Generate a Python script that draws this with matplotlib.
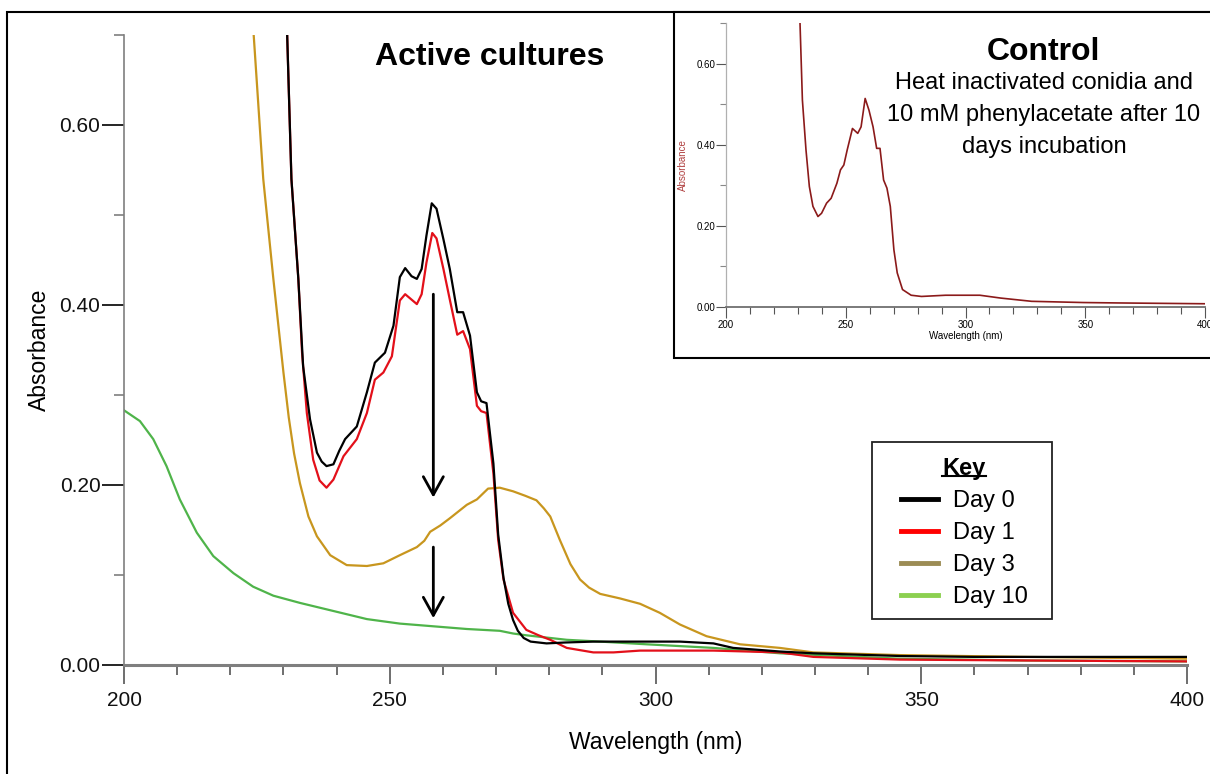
import matplotlib
matplotlib.use("Agg")
import matplotlib.pyplot as plt
from matplotlib.lines import Line2D
from matplotlib.patches import Rectangle
from matplotlib.ticker import MultipleLocator, FormatStrFormatter

plt.rcParams['font.family'] = ['Liberation Sans', 'DejaVu Sans']

# --- espectros (nm, absorbancia) ---
wl_day0 = [230.7, 231.5, 232.8, 233.7, 235.0, 236.3, 237.2, 238.1, 239.4, 240.5, 241.6, 243.8,
           245.7, 247.2, 249.1, 250.7, 251.9, 252.9, 254.1, 255.1, 256.0, 256.9, 257.9, 258.8,
           260.1, 261.3, 262.7, 263.8, 265.1, 266.4, 267.2, 268.2, 269.5, 270.4, 271.4, 272.3,
           273.2, 274.1, 275.2, 276.5, 279.5, 283.0, 288.3, 295.0, 304.6, 310.9, 314.6, 323.4,
           329.7, 346.0, 360.0, 380.0, 400.0]
abs_day0 = [0.700, 0.540, 0.429, 0.332, 0.273, 0.236, 0.226, 0.221, 0.223, 0.238, 0.251, 0.265,
            0.303, 0.336, 0.347, 0.377, 0.431, 0.441, 0.432, 0.429, 0.440, 0.477, 0.513, 0.507,
            0.473, 0.440, 0.392, 0.392, 0.366, 0.303, 0.293, 0.291, 0.224, 0.145, 0.097, 0.068,
            0.050, 0.038, 0.030, 0.026, 0.024, 0.025, 0.026, 0.026, 0.026, 0.024, 0.019, 0.015,
            0.013, 0.010, 0.009, 0.009, 0.009]

wl_day1 = [230.7, 231.5, 232.8, 233.5, 234.4, 235.6, 236.8, 238.1, 239.4, 241.3, 243.8, 245.7,
           247.2, 248.8, 250.4, 251.9, 252.9, 254.1, 255.1, 256.0, 256.9, 258.0, 258.8, 260.1,
           261.3, 262.7, 263.8, 265.1, 266.4, 267.2, 268.2, 269.5, 270.4, 271.4, 273.2, 275.7,
           278.0, 280.2, 283.3, 288.3, 292.1, 297.1, 310.9, 323.4, 329.7, 346.0, 370.0, 400.0]
abs_day1 = [0.700, 0.540, 0.429, 0.347, 0.280, 0.228, 0.205, 0.197, 0.206, 0.232, 0.251, 0.280,
            0.317, 0.325, 0.343, 0.405, 0.412, 0.406, 0.401, 0.412, 0.447, 0.480, 0.474, 0.440,
            0.406, 0.367, 0.371, 0.351, 0.288, 0.282, 0.280, 0.213, 0.139, 0.095, 0.058, 0.039,
            0.033, 0.028, 0.019, 0.014, 0.014, 0.016, 0.016, 0.014, 0.009, 0.006, 0.005, 0.004]

wl_day3 = [224.4, 226.2, 228.1, 230.0, 231.0, 232.0, 233.1, 234.7, 236.3, 238.8, 241.9, 245.7,
           248.8, 251.9, 255.1, 256.5, 257.6, 259.5, 261.3, 264.5, 266.4, 268.5, 270.7, 273.2,
           275.5, 277.6, 279.0, 280.2, 282.0, 284.0, 285.8, 287.5, 289.6, 293.3, 297.1, 300.8,
           304.6, 309.6, 315.9, 323.4, 329.7, 346.0, 370.0, 400.0]
abs_day3 = [0.700, 0.540, 0.429, 0.325, 0.275, 0.235, 0.202, 0.165, 0.143, 0.122, 0.111, 0.110,
            0.113, 0.122, 0.131, 0.138, 0.148, 0.155, 0.163, 0.178, 0.184, 0.196, 0.197, 0.193,
            0.188, 0.183, 0.174, 0.165, 0.139, 0.112, 0.095, 0.086, 0.079, 0.074, 0.068, 0.058,
            0.045, 0.032, 0.023, 0.019, 0.014, 0.011, 0.009, 0.007]

wl_day10 = [200.0, 203.0, 205.5, 208.0, 210.5, 213.7, 216.8, 220.6, 224.3, 228.1, 233.1, 239.4,
            245.7, 251.9, 258.2, 264.5, 270.7, 273.2, 275.7, 283.3, 289.6, 298.3, 310.9, 323.4,
            346.0, 370.0, 400.0]
abs_day10 = [0.283, 0.271, 0.251, 0.221, 0.184, 0.147, 0.121, 0.102, 0.087, 0.077, 0.069, 0.060,
             0.051, 0.046, 0.043, 0.040, 0.038, 0.035, 0.033, 0.028, 0.026, 0.023, 0.019, 0.013,
             0.007, 0.005, 0.004]

wl_ctrl = [230.9, 231.9, 233.4, 234.8, 236.3, 238.4, 239.9, 242.0, 243.9, 246.3, 247.8, 249.2,
           250.6, 252.8, 255.0, 256.4, 258.1, 259.7, 261.4, 262.9, 264.3, 265.8, 267.2, 268.6,
           270.1, 271.5, 273.7, 277.3, 281.6, 291.7, 306.0, 314.7, 327.6, 349.2, 363.6, 400.0]
abs_ctrl = [0.700, 0.510, 0.387, 0.297, 0.248, 0.223, 0.231, 0.256, 0.268, 0.305, 0.338, 0.350,
            0.387, 0.440, 0.428, 0.444, 0.514, 0.485, 0.444, 0.391, 0.391, 0.313, 0.293, 0.248,
            0.141, 0.084, 0.043, 0.029, 0.026, 0.029, 0.029, 0.022, 0.014, 0.011, 0.010, 0.008]

labels = ['Day 0', 'Day 1', 'Day 3', 'Day 10']
line_colors = ['#000000', '#e3101a', '#c8961e', '#4fb44a']
key_colors = ['#000000', '#ff0000', '#9c8c55', '#8cd050']

# setas (inicio, fim) em absorbancia, no comprimento de onda do pico
arrow_wl = 258.2
arrow_spans = [(0.412, 0.186), (0.131, 0.052)]

W, H = 1210, 774


def fx(px):
    return px / W


def fy(py):
    return 1 - py / H


fig = plt.figure(figsize=(W / 100, H / 100), dpi=100)

# moldura externa
fig.add_artist(Rectangle((fx(7), -0.05), 1.2, fy(12) + 0.05, transform=fig.transFigure,
                         fill=False, ec='black', lw=1.5, zorder=0.5))

# --- grafico principal ---
ax = fig.add_axes([fx(124), fy(665), fx(1187) - fx(124), fy(35) - fy(665)])
series = [(wl_day10, abs_day10), (wl_day3, abs_day3), (wl_day1, abs_day1), (wl_day0, abs_day0)]
for (wl, ab), c in zip(series, line_colors[::-1]):
    ax.plot(wl, ab, color=c, lw=1.6)

for y0, y1 in arrow_spans:
    ax.annotate('', xy=(arrow_wl, y1), xytext=(arrow_wl, y0),
                arrowprops=dict(arrowstyle='->,head_length=0.65,head_width=0.36', lw=2,
                                color='black', mutation_scale=20, shrinkA=0, shrinkB=0))

ax.set_xlim(200, 400)
ax.set_ylim(0, 0.70)
for s in ['top', 'right']:
    ax.spines[s].set_visible(False)
ax.spines['left'].set_color('#7f7f7f')
ax.spines['left'].set_linewidth(1.2)
ax.spines['bottom'].set_color('#7f7f7f')
ax.spines['bottom'].set_linewidth(2.2)
ax.xaxis.set_major_locator(MultipleLocator(50))
ax.xaxis.set_minor_locator(MultipleLocator(10))
ax.yaxis.set_major_locator(MultipleLocator(0.2))
ax.yaxis.set_minor_locator(MultipleLocator(0.1))
ax.yaxis.set_major_formatter(FormatStrFormatter('%.2f'))
ax.tick_params(axis='y', which='major', length=16, width=1.2, color='black', pad=1,
               labelsize=15, labelcolor='#111111')
ax.tick_params(axis='y', which='minor', length=7, width=1.2, color='#7f7f7f')
ax.tick_params(axis='x', which='major', length=14, width=1.2, color='#555555', pad=5,
               labelsize=15, labelcolor='#111111')
ax.tick_params(axis='x', which='minor', length=7, width=1.2, color='#555555')
ax.set_xlabel('Wavelength (nm)', fontsize=16.5, labelpad=15)
ax.set_ylabel('Absorbance', fontsize=16.5, labelpad=6)

fig.text(fx(490), fy(65), 'Active cultures', ha='center', va='baseline', fontsize=23,
         weight='bold')

# legenda "Key"
handles = [Line2D([], [], color=c, lw=3.5) for c in key_colors]
leg = ax.legend(handles, labels, loc='upper center', bbox_to_anchor=(fx(964), fy(442)),
                bbox_transform=fig.transFigure, borderaxespad=0, borderpad=0.65,
                title='Key', title_fontproperties={'weight': 'bold', 'size': 17},
                fontsize=17, frameon=False, handlelength=1.6, handletextpad=0.6,
                labelspacing=0.42)
fig.add_artist(Rectangle((fx(872), fy(619)), fx(1052) - fx(872), fy(442) - fy(619),
                         transform=fig.transFigure, fill=False, ec='#222222', lw=1.3))

# --- painel controle ---
fig.add_artist(Rectangle((fx(674), fy(358)), 1.0, fy(12) - fy(358), transform=fig.transFigure,
                         fc='white', ec='black', lw=1.5, zorder=1))
axi = fig.add_axes([fx(726), fy(307), fx(1205) - fx(726), fy(23) - fy(307)])
axi.set_zorder(2)
axi.patch.set_alpha(0)
axi.plot(wl_ctrl, abs_ctrl, color='#8b1a1a', lw=1.2)
axi.set_xlim(200, 400)
axi.set_ylim(0, 0.70)
for s in ['top', 'right']:
    axi.spines[s].set_visible(False)
axi.spines['left'].set_color('#b0b0b0')
axi.spines['left'].set_linewidth(0.9)
axi.spines['bottom'].set_color('#707070')
axi.spines['bottom'].set_linewidth(1.3)
axi.xaxis.set_major_locator(MultipleLocator(50))
axi.xaxis.set_minor_locator(MultipleLocator(10))
axi.yaxis.set_major_locator(MultipleLocator(0.2))
axi.yaxis.set_minor_locator(MultipleLocator(0.1))
axi.yaxis.set_major_formatter(FormatStrFormatter('%.2f'))
axi.tick_params(axis='y', which='major', length=7, width=0.8, color='#555555', pad=0.5,
                labelsize=7)
axi.tick_params(axis='y', which='minor', length=4, width=0.8, color='#888888')
axi.tick_params(axis='x', which='major', length=8, width=0.8, color='#555555', pad=1,
                labelsize=7)
axi.tick_params(axis='x', which='minor', length=5, width=0.8, color='#555555')
axi.set_xlabel('Wavelength (nm)', fontsize=7, labelpad=1)
axi.set_ylabel('Absorbance', fontsize=7, color='#b04040', labelpad=6)

fig.text(fx(1043), fy(60), 'Control', ha='center', va='baseline', fontsize=23, weight='bold',
         zorder=3)
for txt, base in zip(['Heat inactivated conidia and', '10 mM phenylacetate after 10',
                      'days incubation'], [89, 121, 153]):
    fig.text(fx(1044), fy(base), txt, ha='center', va='baseline', fontsize=17, zorder=3)

# sublinhado do titulo da legenda
fig.canvas.draw()
bb = leg.get_title().get_window_extent()
inv = fig.transFigure.inverted()
(x0, y0), (x1, _) = inv.transform([(bb.x0, bb.y0 + 4), (bb.x1, bb.y0 + 4)])
fig.add_artist(Line2D([x0, x1], [y0, y0], transform=fig.transFigure, color='black', lw=1.5))

fig.savefig('out.png', dpi=100)
